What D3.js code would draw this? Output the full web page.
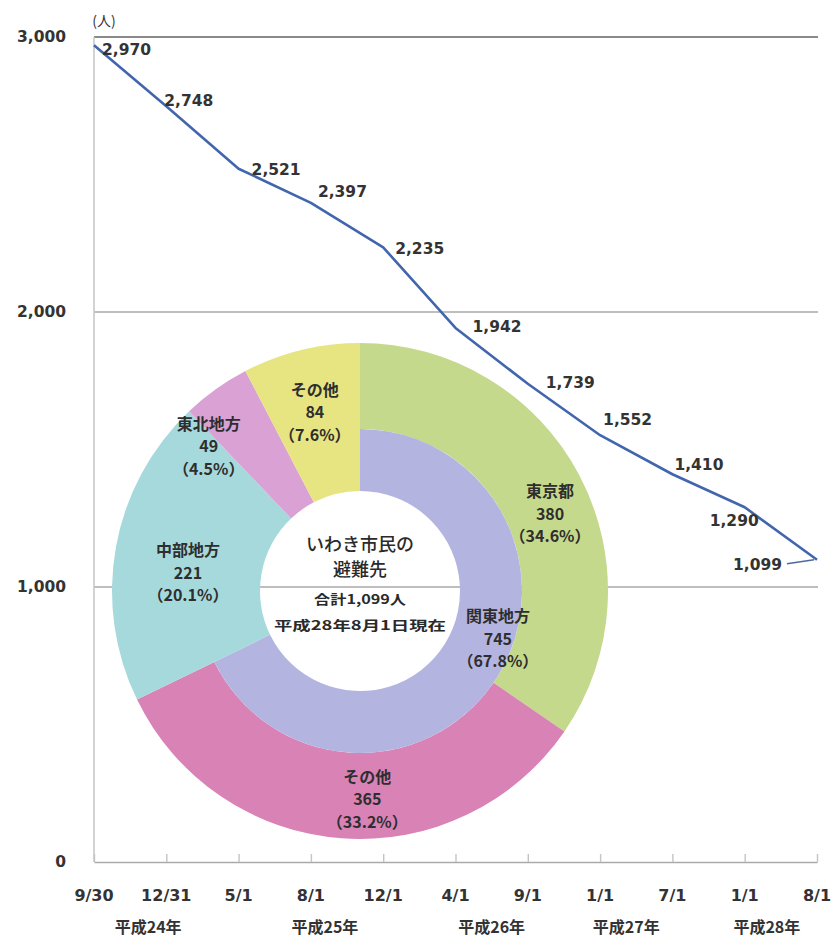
<!DOCTYPE html>
<html><head><meta charset="utf-8">
<script src="https://cdn.jsdelivr.net/npm/d3@7"></script>
<style>html,body{margin:0;padding:0;background:#fff;}svg{display:block;}</style>
</head><body>
<svg id="c" width="832" height="940"></svg>
<script>
// ---- data ----
const dates = ["9/30","12/31","5/1","8/1","12/1","4/1","9/1","1/1","7/1","1/1","8/1"];
const dateYear = ["平成24年","平成24年","平成25年","平成25年","平成25年","平成26年","平成26年","平成27年","平成27年","平成28年","平成28年"];
const years = ["平成24年","平成25年","平成26年","平成27年","平成28年"];
const evacuees = [2970,2748,2521,2397,2235,1942,1739,1552,1410,1290,1099];
const yTicks = [0,1000,2000,3000];
const unitLabel = "(人)";

const destNames  = ["東京都","その他","中部地方","東北地方","その他"];
const destValues = [380,365,221,49,84];
const destPct    = ["34.6%","33.2%","20.1%","4.5%","7.6%"];
const kantoName = "関東地方", kantoValue = 745, kantoPct = "67.8%";
const centerTitle = ["いわき市民の","避難先"];
const centerTotal = "合計1,099人";
const centerDate = "平成28年8月1日現在";

// ---- layout ----
const svg = d3.select("#c");
const x = d3.scalePoint().domain(d3.range(dates.length)).range([94, 817]);
const y = d3.scaleLinear().domain([0,3000]).range([862, 37]);
const numFont = "'DejaVu Sans', Verdana, sans-serif";
const jpFont = "'Noto Sans CJK JP', 'Noto Sans CJK SC', sans-serif";
const txt = "#333";

// gridlines
svg.append("g").selectAll("line").data(yTicks.filter(d=>d>0)).join("line")
  .attr("x1", x(0)).attr("x2", x(dates.length-1)+1)
  .attr("y1", d=>y(d)).attr("y2", d=>y(d))
  .attr("stroke", d=> d===3000 ? "#8a8a8a" : "#a8a8a8")
  .attr("stroke-width", d=> d===3000 ? 2.2 : 1.6);

// y axis line
svg.append("line").attr("x1", x(0)).attr("x2", x(0)).attr("y1", y(3000)).attr("y2", y(0))
  .attr("stroke","#c8c8c8").attr("stroke-width",1.6);

// x axis
const xAxis = d3.axisBottom(x).tickSizeInner(-8).tickSizeOuter(0).tickFormat(()=> "");
const gx = svg.append("g").attr("transform",`translate(0,${y(0)})`).call(xAxis);
gx.select(".domain").attr("stroke","#aaa").attr("stroke-width",1.6);
gx.selectAll(".tick line").attr("stroke","#c4c4c4").attr("stroke-width",1.4);

// y tick labels
svg.append("g").selectAll("text").data(yTicks).join("text")
  .attr("x", 66).attr("y", d=>y(d)).attr("dy","0.35em")
  .attr("text-anchor","end").attr("font-family",numFont).attr("font-weight","bold")
  .attr("font-size",15.5).attr("fill",txt).text(d3.format(","));

// x tick labels
svg.append("g").selectAll("text").data(dates).join("text")
  .attr("x",(d,i)=>x(i)).attr("y", 895).attr("dy","0.35em")
  .attr("text-anchor","middle").attr("font-family",numFont).attr("font-weight","bold")
  .attr("font-size",16).attr("fill",txt).text(d=>d);

// year labels centred under their dates
const yearNudge = [18, 14, 0, -10, -14];
svg.append("g").selectAll("text").data(years).join("text")
  .attr("x",(yr,k)=> d3.mean(dates.map((d,i)=>i).filter(i=>dateYear[i]===yr), i=>x(i)) + yearNudge[k])
  .attr("y", 927).attr("dy","0.35em")
  .attr("text-anchor","middle").attr("font-family",jpFont).attr("font-weight","bold")
  .attr("font-size",16).attr("fill",txt).text(d=>d);

// unit label
svg.append("text").attr("x", x(0)+10).attr("y", y(3000)-16).attr("dy","0.35em")
  .attr("text-anchor","middle").attr("font-family",jpFont).attr("font-size",14)
  .attr("fill",txt).text(unitLabel);

// ---- donut ----
const cx = 360, cy = 591, rHole = 100, rMid = 162, rOut = 248;
const donut = svg.append("g").attr("transform",`translate(${cx},${cy})`);
const total = d3.sum(destValues);
const pie = d3.pie().sort(null).value(d=>d)(destValues);
const colors = ["#c5d98c","#d882b6","#a6d9dc","#d9a1d4","#e7e482"];
const inner = [rMid, rMid, rHole, rHole, rHole];
donut.selectAll("path.o").data(pie).join("path").attr("class","o")
  .attr("d",(d,i)=> d3.arc().innerRadius(inner[i]).outerRadius(rOut)(d))
  .attr("fill",(d,i)=>colors[i]);
// inner Kanto ring
const kantoEnd = 2*Math.PI*kantoValue/total;
donut.append("path")
  .attr("d", d3.arc().innerRadius(rHole).outerRadius(rMid).startAngle(0).endAngle(kantoEnd)())
  .attr("fill","#b4b4e1");

// slice labels (angle deg, radius) placement
const place = [[68,205],[178,209],[276,173],[313.6,209],[345.8,184]];
function block(lines, ang, r){
  const a = ang*Math.PI/180;
  const px = Math.sin(a)*r, py = -Math.cos(a)*r;
  const g = donut.append("g").attr("transform",`translate(${px},${py})`);
  g.selectAll("text").data(lines).join("text")
    .attr("x",0).attr("y",(d,i)=>(i-1)*22.5).attr("dy","0.35em")
    .attr("text-anchor","middle").attr("font-family",jpFont).attr("font-weight",700)
    .attr("font-size",16).attr("fill","#2e2e2e").text(d=>d);
}
destNames.forEach((n,i)=> block([n, String(destValues[i]), "（"+destPct[i]+"）"], place[i][0], place[i][1]));
block([kantoName, String(kantoValue), "（"+kantoPct+"）"], 109.2, 146);

// centre text
donut.selectAll("text.t").data(centerTitle).join("text").attr("class","t")
  .attr("x",0).attr("y",(d,i)=> -46 + i*25).attr("dy","0.35em")
  .attr("text-anchor","middle").attr("font-family",jpFont).attr("font-size",18).attr("font-weight",500)
  .attr("fill","#2a2a2a").text(d=>d);
donut.append("text").attr("x",0).attr("y",8).attr("dy","0.35em")
  .attr("text-anchor","middle").attr("font-family",jpFont).attr("font-size",13).attr("font-weight",700)
  .attr("textLength",92).attr("lengthAdjust","spacingAndGlyphs")
  .attr("fill","#2a2a2a").text(centerTotal);
donut.append("text").attr("x",0).attr("y",34).attr("dy","0.35em")
  .attr("text-anchor","middle").attr("font-family",jpFont).attr("font-size",13).attr("font-weight",700)
  .attr("textLength",172).attr("lengthAdjust","spacingAndGlyphs")
  .attr("fill","#2a2a2a").text(centerDate);

// ---- line ----
const line = d3.line().x((d,i)=>x(i)).y(d=>y(d));
svg.append("path").datum(evacuees).attr("d",line)
  .attr("fill","none").attr("stroke","#4166ad").attr("stroke-width",2.6)
  .attr("stroke-linejoin","round");

// data labels: [dx, dy, anchor]
const lab = [[8,4,"start"],[-2,-6,"start"],[13,1,"start"],[7,-11,"start"],[12,1,"start"],
             [17,-1,"start"],[18,-1,"start"],[3,-16,"start"],[2,-10,"start"],[-35,13,"start"],[-35,5,"end"]];
svg.append("g").selectAll("text").data(evacuees).join("text")
  .attr("x",(d,i)=>x(i)+lab[i][0]).attr("y",(d,i)=>y(d)+lab[i][1]).attr("dy","0.35em")
  .attr("text-anchor",(d,i)=>lab[i][2]).attr("font-family",numFont).attr("font-weight","bold")
  .attr("font-size",15.5).attr("fill",txt).text(d3.format(","));
// leader for last label
const li = evacuees.length-1;
svg.append("line").attr("x1",x(li)-30).attr("y1",y(evacuees[li])+4)
  .attr("x2",x(li)-3).attr("y2",y(evacuees[li])).attr("stroke","#4d6aa0").attr("stroke-width",1.4);
</script>
</body></html>
